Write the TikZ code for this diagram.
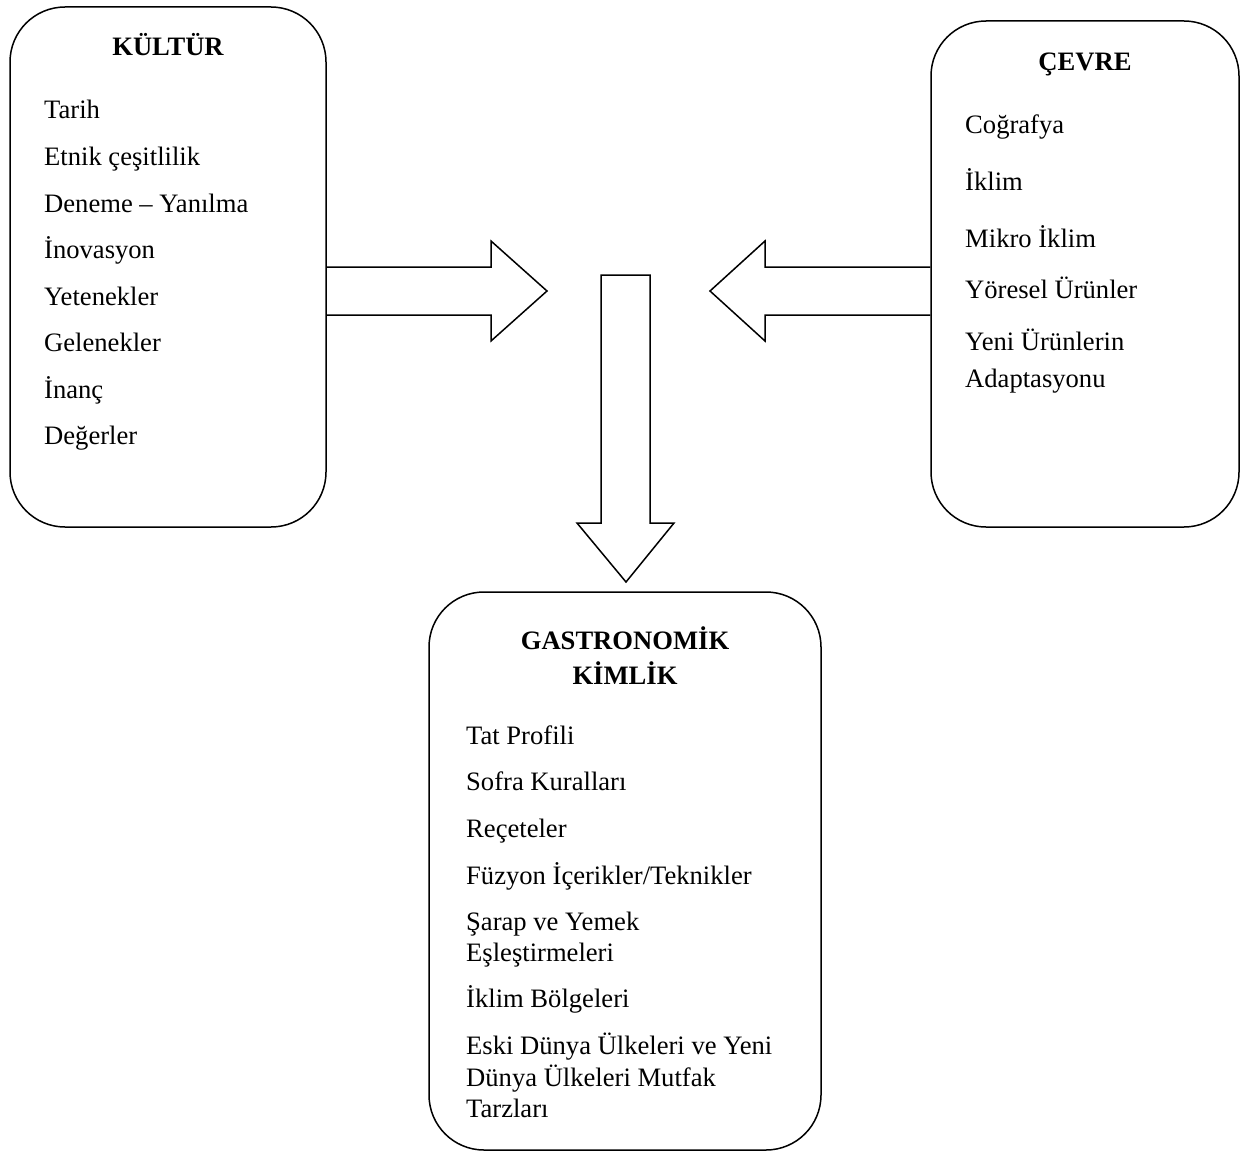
\documentclass[tikz,border=0pt]{standalone}
\usepackage{fontspec}
\setmainfont{Liberation Serif}
\begin{document}
\begin{tikzpicture}[x=1pt,y=-1pt,
  box/.style={draw, line width=1.5pt, rounded corners=55pt, inner sep=0pt},
  blockarrow/.style={draw, line width=1.5pt, line join=miter},
  item/.style={anchor=base west, inner sep=0pt, font=\fontsize{26.6pt}{32pt}\selectfont},
  title/.style={anchor=base, inner sep=0pt, font=\fontsize{26.6pt}{32pt}\selectfont\bfseries}]
\useasboundingbox (0,0) rectangle (1241,1153);
% boxes
\node[box, minimum width=316pt, minimum height=520pt] (kultur) at (168,267) {};
\node[box, minimum width=308pt, minimum height=506pt] (cevre) at (1085,274) {};
\node[box, minimum width=392pt, minimum height=558pt] (gastro) at (625,871) {};
% block arrows
\draw[blockarrow] (kultur.east |- 0,267) -- (491,267) -- (491,241) -- (547,291) -- (491,341) -- (491,315) -- (kultur.east |- 0,315);
\draw[blockarrow] (cevre.west |- 0,267) -- (765,267) -- (765,241) -- (710,291) -- (765,341) -- (765,315) -- (cevre.west |- 0,315);
\draw[blockarrow] (601,275) -- (650,275) -- (650,523) -- (674,523) -- (626,582) -- (577,523) -- (601,523) -- cycle;
% KÜLTÜR
\node[title] (t1) at (168,56) {KÜLTÜR};
\node[item] (k1) at (44,119) {Tarih};
\node[item] (k2) at (44,165) {Etnik çeşitlilik};
\node[item] (k3) at (44,212) {Deneme – Yanılma};
\node[item] (k4) at (44,258) {İnovasyon};
\node[item] (k5) at (44,305) {Yetenekler};
\node[item] (k6) at (44,351) {Gelenekler};
\node[item] (k7) at (44,398) {İnanç};
\node[item] (k8) at (44,444) {Değerler};
% ÇEVRE
\node[title] (t2) at (1085,71) {ÇEVRE};
\node[item] (c1) at (965,133) {Coğrafya};
\node[item] (c2) at (965,190) {İklim};
\node[item] (c3) at (965,247) {Mikro İklim};
\node[item] (c4) at (965,298) {Yöresel Ürünler};
\node[item] (c5) at (965,350) {Yeni Ürünlerin};
\node[item] (c6) at (965,387) {Adaptasyonu};
% GASTRONOMİK KİMLİK
\node[title] (t3) at (625,649) {GASTRONOMİK};
\node[title] (t4) at (625,684) {KİMLİK};
\node[item] (g1) at (466,744) {Tat Profili};
\node[item] (g2) at (466,790) {Sofra Kuralları};
\node[item] (g3) at (466,837) {Reçeteler};
\node[item] (g4) at (466,884) {Füzyon İçerikler/Teknikler};
\node[item] (g5) at (466,930) {Şarap ve Yemek};
\node[item] (g6) at (466,961) {Eşleştirmeleri};
\node[item] (g7) at (466,1007) {İklim Bölgeleri};
\node[item] (g8) at (466,1054) {Eski Dünya Ülkeleri ve Yeni};
\node[item] (g9) at (466,1086) {Dünya Ülkeleri Mutfak};
\node[item] (g10) at (466,1117) {Tarzları};
\end{tikzpicture}
\end{document}
